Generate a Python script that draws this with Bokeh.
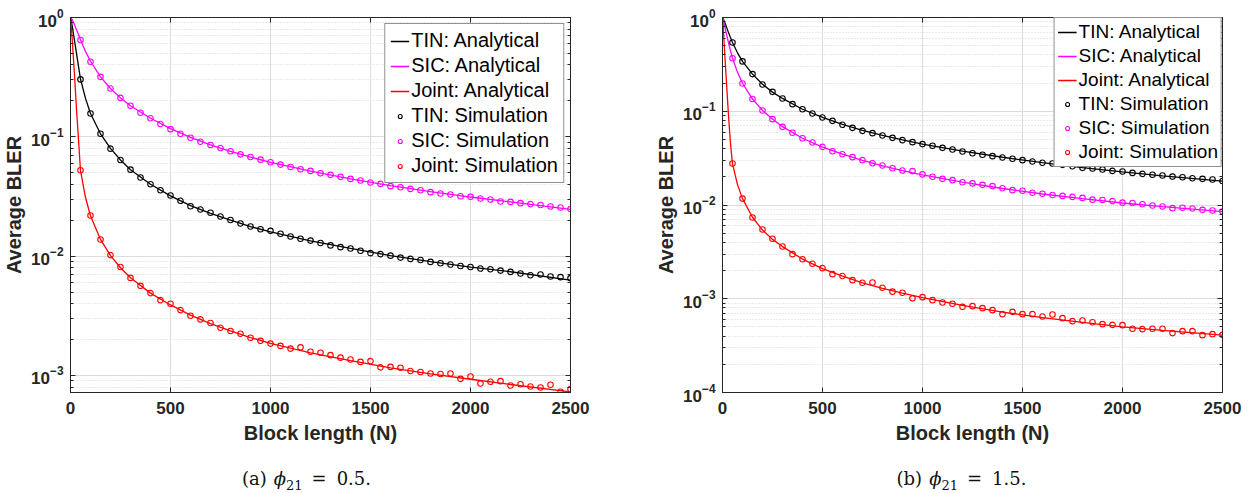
from bokeh.plotting import figure
from bokeh.models import (FixedTicker, LinearAxis, Legend, LegendItem, Div,
                          LogTickFormatter, Range1d, CustomJSTickFormatter)
from bokeh.layouts import row, column
from bokeh.embed import file_html
from bokeh.resources import INLINE

# ---------------- data ----------------
sim_N = list(range(50, 2501, 50))
ana_N = [1, 10, 20, 30, 40, 50, 75, 100, 150, 200, 250, 300, 400, 500, 600, 700, 800,
         900, 1000, 1200, 1400, 1600, 1800, 2000, 2200, 2500]

# (a) phi21 = 0.5
a_tin_ana = [1.0, 0.82, 0.64, 0.50, 0.39, 0.305, 0.21, 0.157, 0.106, 0.080, 0.064, 0.053,
             0.0400, 0.0320, 0.0265, 0.0228, 0.0200, 0.0177, 0.0160, 0.0134, 0.0116,
             0.0101, 0.0090, 0.0081, 0.0074, 0.0063]
a_sic_ana = [1.0, 0.95, 0.87, 0.79, 0.72, 0.65, 0.52, 0.43, 0.318, 0.254, 0.212, 0.182,
             0.143, 0.117, 0.099, 0.0855, 0.0755, 0.0677, 0.0612, 0.0515, 0.0445,
             0.0390, 0.0347, 0.0313, 0.0285, 0.0247]
a_joint_ana = [1.0, 0.60, 0.33, 0.17, 0.095, 0.052, 0.031, 0.0218, 0.0138, 0.0101, 0.0080,
               0.0066, 0.0049, 0.0039, 0.00320, 0.00272, 0.00236, 0.00208, 0.00186,
               0.00155, 0.00133, 0.00116, 0.00103, 0.00093, 0.00084, 0.00073]
a_tin_sim = [0.303, 0.157, 0.106, 0.0796, 0.064, 0.0531, 0.0456, 0.0401, 0.0357, 0.0322,
             0.0291, 0.0262, 0.0246, 0.0231, 0.0215, 0.0201, 0.0188, 0.0177, 0.0168, 0.0163,
             0.0154, 0.0146, 0.0140, 0.0135, 0.0129, 0.0123, 0.0119, 0.0116, 0.0111, 0.0106,
             0.0104, 0.0101, 0.00972, 0.00948, 0.00929, 0.00895, 0.00872, 0.00850, 0.00828,
             0.00812, 0.00787, 0.00777, 0.00757, 0.00738, 0.00715, 0.00692, 0.00701,
             0.00675, 0.00667, 0.00654]
a_sic_sim = [0.647, 0.426, 0.318, 0.254, 0.212, 0.182, 0.159, 0.143, 0.128, 0.116, 0.106,
             0.0983, 0.091, 0.0853, 0.0805, 0.0756, 0.0713, 0.0678, 0.0644, 0.0612, 0.0585,
             0.0559, 0.0535, 0.0518, 0.0495, 0.048, 0.0462, 0.0444, 0.043, 0.0414, 0.0403,
             0.0386, 0.0378, 0.0366, 0.0357, 0.0344, 0.0335, 0.0329, 0.0318, 0.0314, 0.0304,
             0.0298, 0.0287, 0.0285, 0.0278, 0.0273, 0.0268, 0.0261, 0.0256, 0.0248]
a_joint_sim = [0.0525, 0.0219, 0.0138, 0.0102, 0.00812, 0.00657, 0.00564, 0.00490, 0.00428,
               0.00399, 0.00353, 0.00317, 0.00295, 0.00275, 0.00251, 0.00236, 0.00224,
               0.00207, 0.00195, 0.00185, 0.00177, 0.00168, 0.00172, 0.00158, 0.00155,
               0.00148, 0.00141, 0.00136, 0.00130, 0.00132, 0.00117, 0.00118, 0.00116,
               0.00109, 0.00107, 0.00104, 0.00103, 0.00104, 0.000937, 0.000980, 0.000857,
               0.000885, 0.000896, 0.000824, 0.000845, 0.000809, 0.000794, 0.000835,
               0.000730, 0.000769]

# (b) phi21 = 1.5
b_tin_ana = [1.0, 0.90, 0.79, 0.69, 0.61, 0.54, 0.42, 0.34, 0.249, 0.194, 0.160, 0.137,
             0.105, 0.086, 0.0725, 0.0625, 0.0552, 0.0494, 0.0447, 0.0375, 0.0323, 0.0283,
             0.0251, 0.0226, 0.0205, 0.0180]
b_sic_ana = [1.0, 0.82, 0.66, 0.54, 0.44, 0.37, 0.26, 0.199, 0.135, 0.102, 0.0825, 0.0685,
             0.0515, 0.0415, 0.0348, 0.0299, 0.0262, 0.0233, 0.0210, 0.0175, 0.0150,
             0.0131, 0.0117, 0.0105, 0.0096, 0.0085]
b_joint_ana = [1.0, 0.45, 0.20, 0.09, 0.045, 0.0275, 0.0165, 0.0117, 0.0074, 0.0054, 0.0043,
               0.0036, 0.00265, 0.00210, 0.00174, 0.00148, 0.00129, 0.00115, 0.00103,
               0.00085, 0.00072, 0.00063, 0.00056, 0.00050, 0.00046, 0.00041]
b_tin_sim = [0.541, 0.340, 0.249, 0.193, 0.161, 0.137, 0.119, 0.105, 0.0946, 0.0858, 0.0790,
             0.0717, 0.0665, 0.0618, 0.0584, 0.0551, 0.0520, 0.0492, 0.0468, 0.0446, 0.0428,
             0.0407, 0.0391, 0.0372, 0.0357, 0.0343, 0.0332, 0.0321, 0.0311, 0.0301, 0.0291,
             0.0282, 0.0277, 0.0268, 0.0259, 0.0249, 0.0245, 0.0239, 0.0231, 0.0228, 0.0220,
             0.0215, 0.0210, 0.0206, 0.0201, 0.0198, 0.0193, 0.0190, 0.0187, 0.0180]
b_sic_sim = [0.368, 0.198, 0.135, 0.102, 0.0824, 0.0682, 0.0589, 0.0516, 0.0464, 0.0417,
             0.0375, 0.0348, 0.0324, 0.0301, 0.0279, 0.0264, 0.0247, 0.0233, 0.0230, 0.0212,
             0.0200, 0.0190, 0.0184, 0.0175, 0.0170, 0.0164, 0.0159, 0.0151, 0.0144, 0.0142,
             0.0135, 0.0132, 0.0128, 0.0125, 0.0122, 0.0119, 0.0114, 0.0113, 0.0110, 0.0106,
             0.0105, 0.0102, 0.00988, 0.00964, 0.00925, 0.00933, 0.00918, 0.00888, 0.00873,
             0.00853]
b_joint_sim = [0.0277, 0.0117, 0.00736, 0.00548, 0.00436, 0.00361, 0.00299, 0.00264, 0.00236,
               0.00212, 0.00183, 0.00175, 0.00158, 0.00148, 0.00149, 0.00131, 0.00119,
               0.00116, 0.00101, 0.00104, 0.000966, 0.000912, 0.000883, 0.000820, 0.000834,
               0.000794, 0.000756, 0.000685, 0.000725, 0.000685, 0.000685, 0.000647,
               0.000680, 0.000621, 0.000577, 0.000586, 0.000562, 0.000536, 0.000527,
               0.000523, 0.000478, 0.000474, 0.000478, 0.000478, 0.000430, 0.000451,
               0.000451, 0.000409, 0.000419, 0.000412]

x_ticks = [0, 500, 1000, 1500, 2000, 2500]
y_ticks_a = [1e-3, 1e-2, 1e-1, 1e0]
y_ticks_b = [1e-4, 1e-3, 1e-2, 1e-1, 1e0]
series_names = ["TIN", "SIC", "Joint"]
series_colors = ["#000000", "#ff00ff", "#ff0000"]
caption_tags = ["(a)", "(b)"]
caption_values = ["0.5.", "1.5."]

TXT = "#262626"
minor_y = [m * 10.0 ** e for e in range(-5, 0) for m in range(2, 10)]


def caption_html(tag, val, lead, trail):
    return (f'<span style="margin-left:{lead}px"></span>'
            f'{tag}<span style="margin-left:7px"><i>&#981;</i></span>'
            f'<sub style="font-size:13px">21</sub>'
            f'<span style="margin:0 10px 0 9px">=</span>{val}'
            f'<span style="margin-right:{trail}px"></span>')


def make_plot(ana, sim, y_min, y_ticks, border_left, border_right, leg_font,
              leg_spacing, leg_pad, leg_margin):
    p = figure(y_axis_type="log", output_backend="svg", toolbar_location=None,
               frame_width=500, frame_height=375,
               min_border_left=border_left, min_border_right=border_right,
               min_border_top=17, min_border_bottom=63,
               x_range=Range1d(0, 2500), y_range=Range1d(y_min, 1.0))
    p.outline_line_color = TXT
    p.outline_line_width = 1
    p.background_fill_color = "white"
    p.border_fill_color = "white"

    # axes
    xa = p.xaxis[0]
    xa.ticker = FixedTicker(ticks=x_ticks)
    xa.axis_label = "Block length (N)"
    ya = p.yaxis[0]
    ya.ticker = FixedTicker(ticks=y_ticks, minor_ticks=minor_y)
    ya.formatter = LogTickFormatter()
    ya.axis_label = "Average BLER"
    for ax in (xa, ya):
        ax.axis_line_color = TXT
        ax.major_tick_in = 5
        ax.major_tick_out = 0
        ax.minor_tick_in = 3
        ax.minor_tick_out = 0
        ax.major_tick_line_color = TXT
        ax.minor_tick_line_color = TXT
        ax.major_label_text_font = "Liberation Sans"
        ax.major_label_text_font_style = "bold"
        ax.major_label_text_font_size = "17px"
        ax.major_label_text_color = TXT
        ax.axis_label_text_font = "Liberation Sans"
        ax.axis_label_text_font_style = "bold"
        ax.axis_label_text_font_size = "20px"
        ax.axis_label_text_color = TXT
    xa.major_label_standoff = 9
    xa.axis_label_standoff = 5
    ya.major_label_standoff = 7
    ya.axis_label_standoff = 3

    # mirrored axes on top / right (ticks only, labels blank)
    top = LinearAxis(ticker=FixedTicker(ticks=x_ticks),
                     formatter=CustomJSTickFormatter(code="return ''"))
    right = LinearAxis(ticker=FixedTicker(ticks=y_ticks, minor_ticks=minor_y),
                       formatter=CustomJSTickFormatter(code="return ''"))
    for ax in (top, right):
        ax.axis_line_color = TXT
        ax.major_tick_in = 5
        ax.major_tick_out = 0
        ax.minor_tick_in = 3
        ax.minor_tick_out = 0
        ax.major_tick_line_color = TXT
        ax.minor_tick_line_color = TXT
        ax.major_label_standoff = 0
    top.minor_tick_line_color = None
    p.add_layout(top, "above")
    p.add_layout(right, "right")

    # grid
    p.xgrid.ticker = FixedTicker(ticks=x_ticks)
    p.xgrid.grid_line_color = "#dcdcdc"
    p.xgrid.grid_line_width = 1
    p.ygrid.ticker = FixedTicker(ticks=y_ticks, minor_ticks=minor_y)
    p.ygrid.grid_line_color = "#dcdcdc"
    p.ygrid.grid_line_width = 1
    p.ygrid.minor_grid_line_color = "#d4d4d4"
    p.ygrid.minor_grid_line_dash = "1 2"
    p.ygrid.minor_grid_line_width = 1

    line_items, sim_items = [], []
    for name, color, ya_vals in zip(series_names, series_colors, ana):
        r = p.line(ana_N, ya_vals, line_color=color, line_width=1.3)
        line_items.append(LegendItem(label=f"{name}: Analytical", renderers=[r]))
    for name, color, ys_vals in zip(series_names, series_colors, sim):
        s = p.scatter(sim_N, ys_vals, marker="circle", size=5.5, fill_color=None,
                      line_color=color, line_width=1.1)
        sim_items.append(LegendItem(label=f"{name}: Simulation", renderers=[s]))

    leg = Legend(items=line_items + sim_items, location="top_right")
    leg.label_text_font = "Liberation Sans"
    leg.label_text_font_size = leg_font
    leg.label_text_color = "#000000"
    leg.label_height = 20
    leg.glyph_height = 10
    leg.glyph_width = 19
    leg.label_standoff = 2
    leg.spacing = leg_spacing
    leg.padding = leg_pad
    leg.margin = leg_margin
    leg.border_line_color = TXT
    leg.border_line_width = 1
    leg.background_fill_alpha = 1.0
    p.add_layout(leg, "center")
    return p


p1 = make_plot([a_tin_ana, a_sic_ana, a_joint_ana], [a_tin_sim, a_sic_sim, a_joint_sim],
               7.2e-4, y_ticks_a, 70, 70, "20px", 2, 5, 6)
p2 = make_plot([b_tin_ana, b_sic_ana, b_joint_ana], [b_tin_sim, b_sic_sim, b_joint_sim],
               1e-4, y_ticks_b, 82, 27, "19px", 2, 3, 0)

cap_style = {"font-family": "'DejaVu Serif', 'Liberation Serif', serif", "font-size": "18px",
             "color": "#111111", "text-align": "center", "width": "100%",
             "padding-top": "6px"}
d1 = Div(text=caption_html(caption_tags[0], caption_values[0], 0, 37),
         width=640, height=38, styles=cap_style)
d2 = Div(text=caption_html(caption_tags[1], caption_values[1], 24, 0),
         width=609, height=38, styles=cap_style)

layout = row(column(p1, d1, spacing=0), column(p2, d2, spacing=0), spacing=0)
open("out.html", "w").write(file_html(layout, INLINE))
